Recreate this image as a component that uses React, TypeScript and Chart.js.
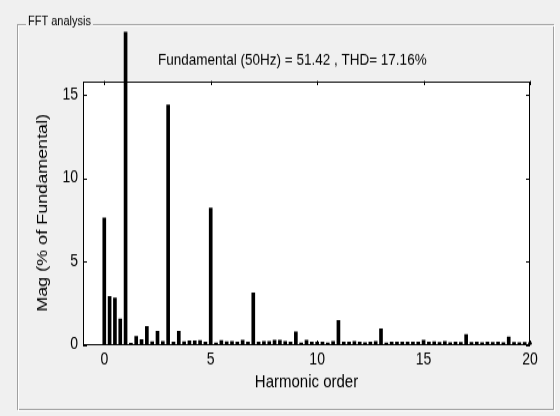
import React, { useEffect, useRef } from "react";
import { Chart, registerables } from "chart.js";

Chart.register(...registerables);

// ---- data ----
const harmonicOrders = [
  0, 0.25, 0.5, 0.75, 1, 1.25, 1.5, 1.75, 2, 2.25, 2.5, 2.75, 3, 3.25, 3.5, 3.75,
  4, 4.25, 4.5, 4.75, 5, 5.25, 5.5, 5.75, 6, 6.25, 6.5, 6.75, 7, 7.25, 7.5, 7.75,
  8, 8.25, 8.5, 8.75, 9, 9.25, 9.5, 9.75, 10, 10.25, 10.5, 10.75, 11, 11.25, 11.5, 11.75,
  12, 12.25, 12.5, 12.75, 13, 13.25, 13.5, 13.75, 14, 14.25, 14.5, 14.75, 15, 15.25, 15.5, 15.75,
  16, 16.25, 16.5, 16.75, 17, 17.25, 17.5, 17.75, 18, 18.25, 18.5, 18.75, 19, 19.25, 19.5, 19.75,
  20,
];

const magnitudes = [
  7.6, 2.9, 2.8, 1.55, 100, 0.08, 0.5, 0.3, 1.1, 0.18, 0.8, 0.2, 14.4, 0.15, 0.8, 0.18,
  0.22, 0.22, 0.25, 0.15, 8.2, 0.1, 0.25, 0.18, 0.2, 0.16, 0.26, 0.16, 3.1, 0.16, 0.2, 0.2,
  0.26, 0.26, 0.2, 0.16, 0.76, 0.1, 0.26, 0.16, 0.16, 0.16, 0.1, 0.2, 1.46, 0.16, 0.16, 0.2,
  0.16, 0.12, 0.16, 0.2, 0.94, 0.1, 0.16, 0.16, 0.16, 0.16, 0.16, 0.16, 0.26, 0.16, 0.18, 0.14,
  0.2, 0.12, 0.16, 0.14, 0.6, 0.14, 0.16, 0.12, 0.16, 0.14, 0.16, 0.12, 0.46, 0.14, 0.12, 0.14,
  0.12,
];

const xTickValues = [0, 5, 10, 15, 20];
const yTickValues = [0, 5, 10, 15];
const xRange = [-1, 20];
const yRange = [0, 15.84];

const titleText = "Fundamental (50Hz) = 51.42 , THD= 17.16%";
const panelLabel = "FFT analysis";
const xAxisTitle = "Harmonic order";
const yAxisTitle = "Mag (% of Fundamental)";

// ---- layout (internal canvas px; canvas is stretched vertically by CSS) ----
const CANVAS_W = 560;
const CANVAS_H = 347;
const CSS_H = 416;
const AREA_TOP = 67.5;
const AREA_BOTTOM = 287.5;
const AREA_LEFT = 83;
const AREA_RIGHT = 530;
const FONT = '"Liberation Sans", Arial, Helvetica, sans-serif';
const BG = "#f0f0f0";

const decorPlugin = {
  id: "decor",
  beforeDraw(chart: any) {
    const { ctx, chartArea: a } = chart;
    ctx.save();
    ctx.fillStyle = BG;
    ctx.fillRect(0, 0, chart.width, chart.height);

    // group box frame (etched)
    const fx0 = 17.5, fy0 = 20.5, fx1 = 553.5, fy1 = 341.5;
    ctx.lineWidth = 1;
    ctx.strokeStyle = "#a0a0a0";
    ctx.strokeRect(fx0, fy0, fx1 - fx0, fy1 - fy0);
    ctx.strokeStyle = "#ffffff";
    ctx.strokeRect(fx0 + 1, fy0 + 1, fx1 - fx0, fy1 - fy0);

    // panel label
    ctx.font = `11px ${FONT}`;
    const tw = ctx.measureText(panelLabel).width;
    ctx.fillStyle = BG;
    ctx.fillRect(26, 12, tw + 4, 14);
    ctx.fillStyle = "#000";
    ctx.textBaseline = "middle";
    ctx.textAlign = "left";
    ctx.fillText(panelLabel, 28, 18);

    // axes background
    ctx.fillStyle = "#ffffff";
    ctx.fillRect(a.left, a.top, a.right - a.left, a.bottom - a.top);

    // title
    ctx.fillStyle = "#000";
    ctx.font = `13.5px ${FONT}`;
    ctx.textAlign = "left";
    ctx.textBaseline = "middle";
    ctx.fillText(titleText, 158, 50);
    ctx.restore();
  },
  afterDatasetsDraw(chart: any) {
    const { ctx, chartArea: a, scales } = chart;
    ctx.save();
    ctx.strokeStyle = "#000";
    ctx.lineWidth = 1;
    ctx.strokeRect(Math.round(a.left) + 0.5, Math.round(a.top) + 0.5,
      Math.round(a.right - a.left) - 1, Math.round(a.bottom - a.top) - 1);
    ctx.beginPath();
    for (const v of xTickValues) {
      const px = Math.round(scales.x.getPixelForValue(v)) + 0.5;
      ctx.moveTo(px, a.bottom);
      ctx.lineTo(px, a.bottom - 3.5);
      ctx.moveTo(px, a.top);
      ctx.lineTo(px, a.top + 3.5);
    }
    for (const v of yTickValues) {
      const py = Math.round(scales.y.getPixelForValue(v)) + 0.5;
      ctx.moveTo(a.left, py);
      ctx.lineTo(a.left + 4, py);
      ctx.moveTo(a.right, py);
      ctx.lineTo(a.right - 4, py);
    }
    ctx.stroke();
    ctx.restore();
  },
};

export default function App() {
  const canvasRef = useRef<HTMLCanvasElement | null>(null);

  useEffect(() => {
    if (!canvasRef.current) return;
    const chart = new Chart(canvasRef.current, {
      type: "bar",
      data: {
        datasets: [
          {
            data: harmonicOrders.map((x, i) => ({ x, y: magnitudes[i] })),
            backgroundColor: "#000000",
            borderWidth: 0,
            barThickness: 3,
            grouped: false,
            clip: { left: 5, right: 2, top: 41, bottom: 0 },
          } as any,
        ],
      },
      options: {
        animation: false,
        responsive: false,
        devicePixelRatio: 1,
        layout: { padding: { top: AREA_TOP, right: CANVAS_W - AREA_RIGHT, left: 0, bottom: 0 } },
        plugins: {
          legend: { display: false },
          tooltip: { enabled: false },
          title: { display: false },
        },
        scales: {
          x: {
            type: "linear",
            offset: false,
            min: xRange[0],
            max: xRange[1],
            grid: { display: false, drawTicks: false, offset: false },
            border: { display: false },
            afterBuildTicks: (s: any) => {
              s.ticks = xTickValues.map((v) => ({ value: v }));
            },
            afterFit: (s: any) => {
              s.height = CANVAS_H - AREA_BOTTOM;
            },
            ticks: {
              font: { family: FONT, size: 14 },
              color: "#000",
              padding: 4,
              maxRotation: 0,
              autoSkip: false,
            },
            title: {
              display: true,
              text: xAxisTitle,
              color: "#000",
              font: { family: FONT, size: 15 },
              padding: { top: 0, bottom: 19.4 },
            },
          },
          y: {
            type: "linear",
            min: yRange[0],
            max: yRange[1],
            grid: { display: false, drawTicks: false },
            border: { display: false },
            afterBuildTicks: (s: any) => {
              s.ticks = yTickValues.map((v) => ({ value: v }));
            },
            afterFit: (s: any) => {
              s.width = AREA_LEFT;
            },
            ticks: {
              font: { family: FONT, size: 14 },
              color: "#000",
              padding: 5,
            },
            title: {
              display: true,
              text: yAxisTitle,
              color: "#000",
              font: { family: FONT, size: 15 },
              padding: { top: 34, bottom: 0 },
            },
          },
        },
      } as any,
      plugins: [decorPlugin],
    });
    return () => chart.destroy();
  }, []);

  return (
    <canvas
      ref={canvasRef}
      width={CANVAS_W}
      height={CANVAS_H}
      style={{ position: "absolute", left: 0, top: 0, width: `${CANVAS_W}px`, height: `${CSS_H}px` }}
    />
  );
}
